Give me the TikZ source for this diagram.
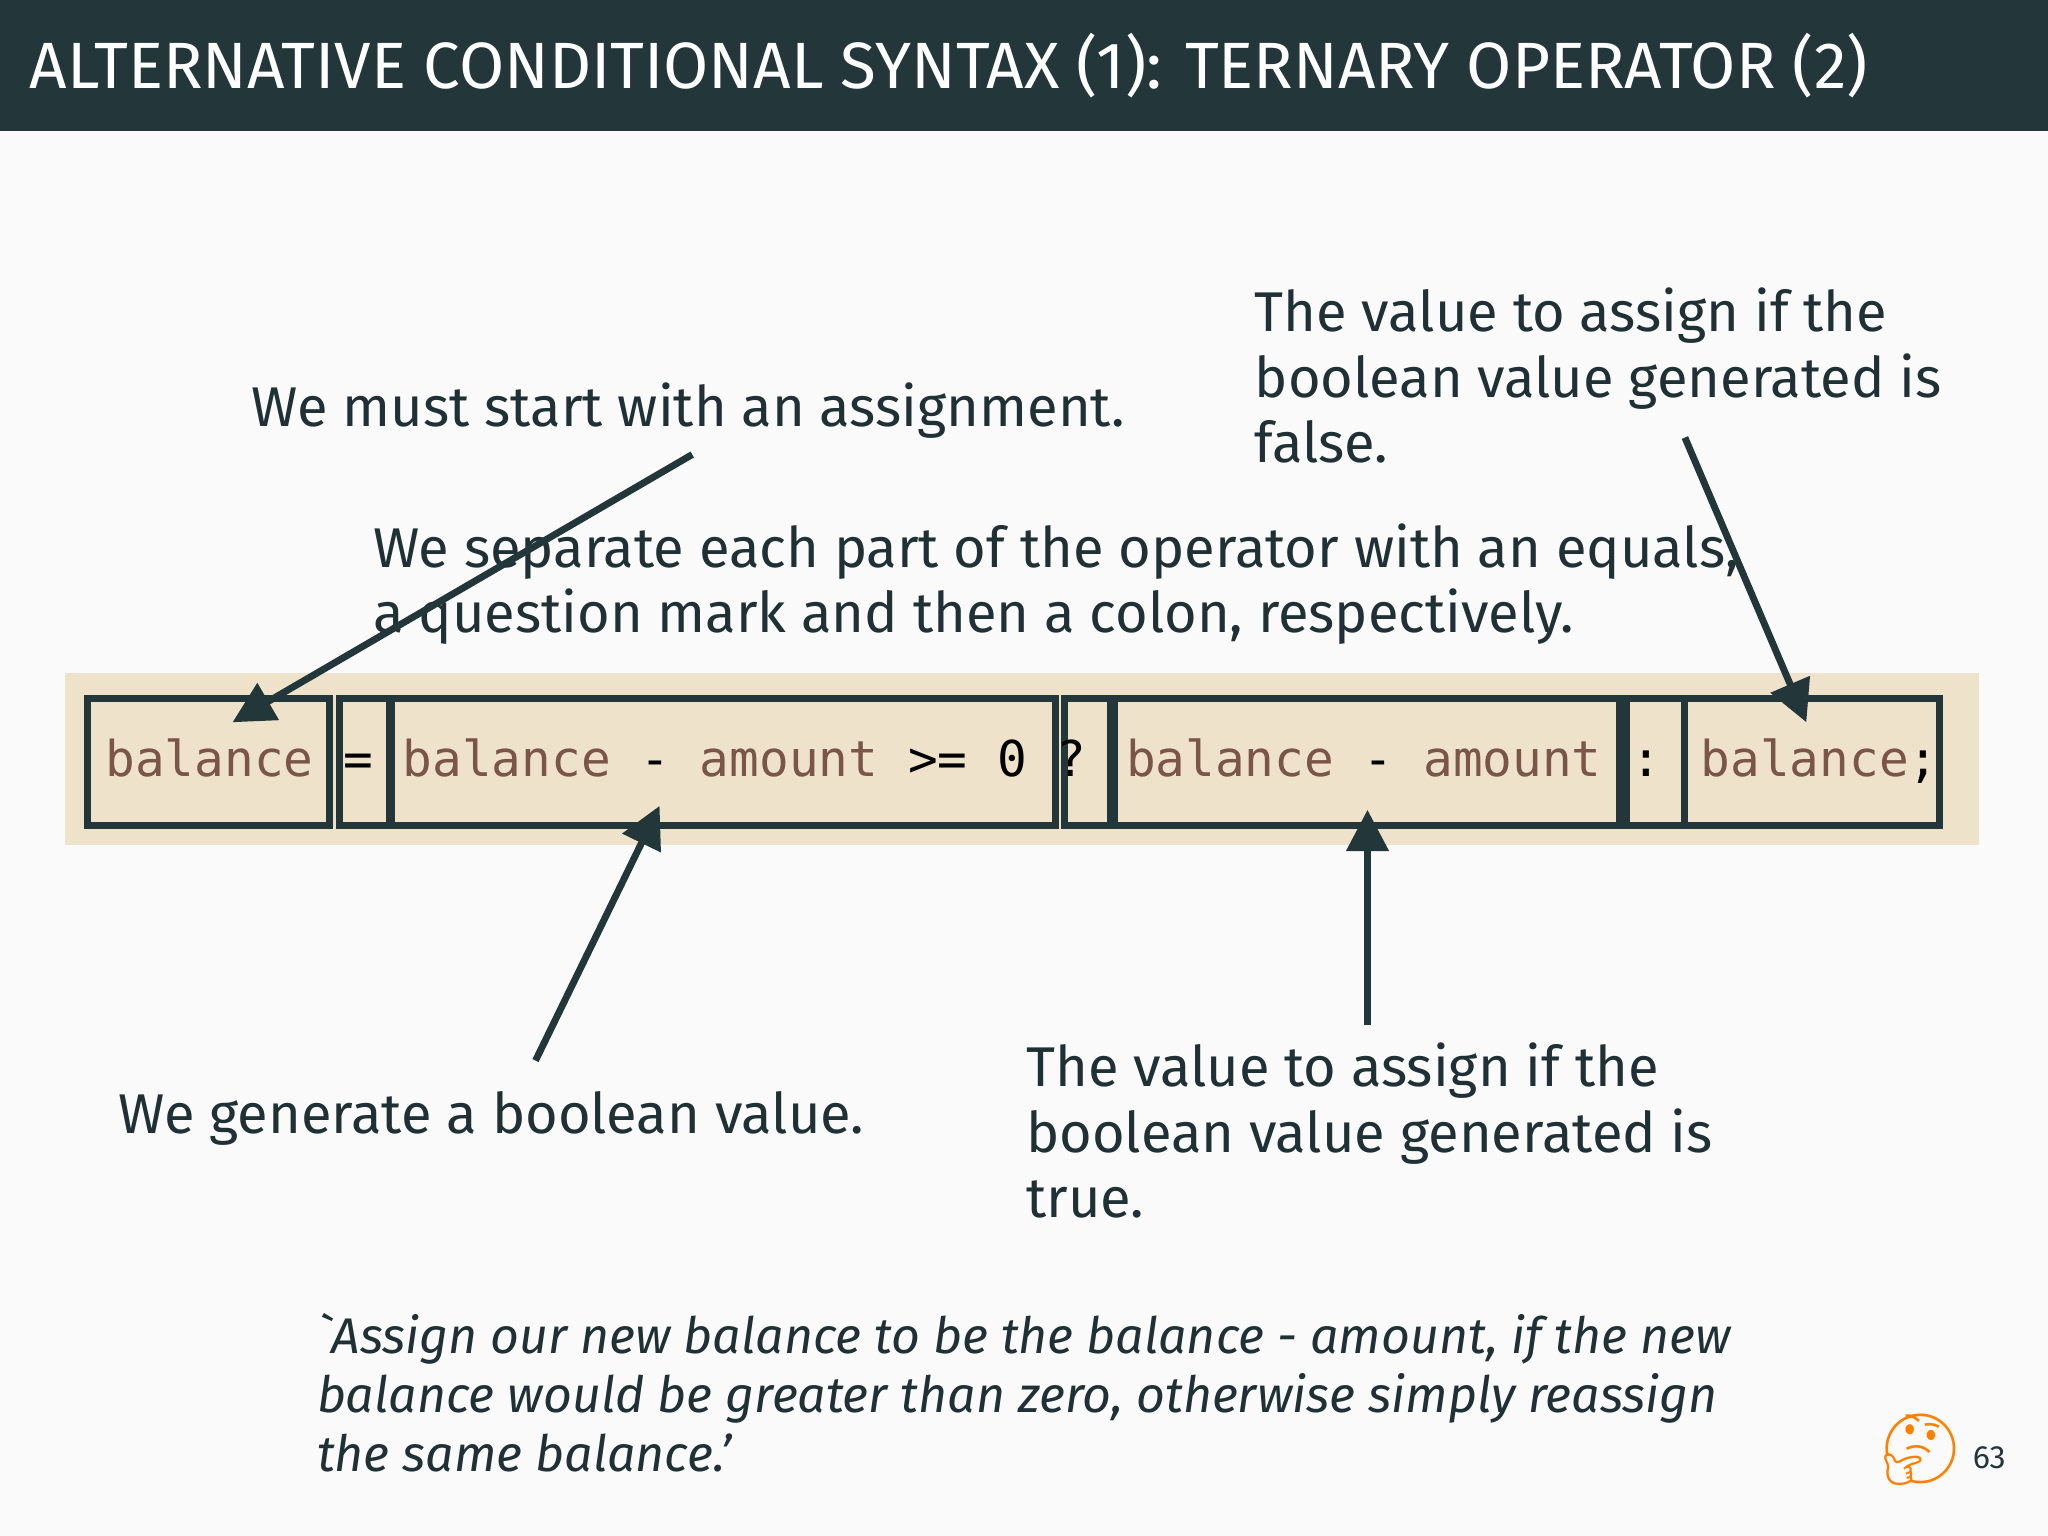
\documentclass[tikz,border=0pt]{standalone}
\usepackage{fontspec}
\setmainfont{Fira Sans}
\newfontfamily\codefont{DejaVu Sans Mono}
\newfontfamily\emojifont{Noto Emoji}
\usetikzlibrary{arrows.meta}
\definecolor{dark}{HTML}{23373B}
\definecolor{band}{HTML}{EEE2CB}
\definecolor{ident}{HTML}{7A5548}
\definecolor{bg}{HTML}{FAFAFA}
\tikzset{
  txt/.style={anchor=north west,inner sep=0pt,align=left,text=dark!90!black,font=\fontsize{12.2pt}{14.2pt}\selectfont},
  cbox/.style={draw=dark,line width=1.5pt},
  arr/.style={draw=dark,line width=1.5pt,-{Triangle[length=9pt,width=9pt]}}
}
\begin{document}
\begin{tikzpicture}[x=0.01cm,y=-0.01cm]
\useasboundingbox (0,0) rectangle (1568,1176);
\fill[bg] (0,0) rectangle (1568,1176);
\fill[dark] (0,0) rectangle (1568,100);
\node[anchor=west,inner sep=0pt,text=white,font=\fontsize{14.25pt}{16pt}\selectfont] (title) at (22,50) {ALTERNATIVE CONDITIONAL SYNTAX (1): TERNARY OPERATOR (2)};
\fill[band] (50,515) rectangle (1515,647);
\draw[cbox] (67,535) rectangle (252,632);
\draw[cbox] (260,535) rectangle (298,632);
\draw[cbox] (300,535) rectangle (808,632);
\draw[cbox] (815,535) rectangle (850,632);
\draw[cbox] (853,535) rectangle (1240,632);
\draw[cbox] (1245,535) rectangle (1290,632);
\draw[cbox] (1290,535) rectangle (1485,632);
\node[anchor=west,inner sep=0pt,font=\codefont\fontsize{10.75pt}{12pt}\selectfont] (code) at (80,583)
 {\textcolor{ident}{balance} = \textcolor{ident}{balance} - \textcolor{ident}{amount} >= 0 ? \textcolor{ident}{balance} - \textcolor{ident}{amount} : \textcolor{ident}{balance};};
\node[txt] (t1) at (192,292) {We must start with an assignment.};
\node[txt] (t2) at (960,220) {The value to assign if the\\boolean value generated is\\false.};
\node[txt] (t3) at (285,400) {We separate each part of the operator with an equals,\\a question mark and then a colon, respectively.};
\node[txt] (t4) at (90,835) {We generate a boolean value.};
\node[txt] (t5) at (785,798) {The value to assign if the\\boolean value generated is\\true.};
\node[txt,font=\itshape\fontsize{10.9pt}{12.8pt}\selectfont] (q) at (242,1005) {\textasciigrave Assign our new balance to be the balance - amount, if the new\\balance would be greater than zero, otherwise simply reassign\\the same balance.'};
\node[inner sep=0pt,font=\emojifont\fontsize{15pt}{16pt}\selectfont,text=orange] (em) at (1470,1110) {🤔};
\node[inner sep=0pt,text=dark,font=\fontsize{7pt}{8pt}\selectfont] (pg) at (1523,1116) {63};
\coordinate (s1) at (530,348); \coordinate (e1) at (178,553);
\coordinate (s2) at (1290,335); \coordinate (e2) at (1383,553);
\coordinate (s3) at (410,812); \coordinate (e3) at (505,617);
\coordinate (s4) at (1047,785); \coordinate (e4) at (1047,620);
\draw[arr] (s1) -- (e1);
\draw[arr] (s2) -- (e2);
\draw[arr] (s3) -- (e3);
\draw[arr] (s4) -- (e4);
\end{tikzpicture}
\end{document}
